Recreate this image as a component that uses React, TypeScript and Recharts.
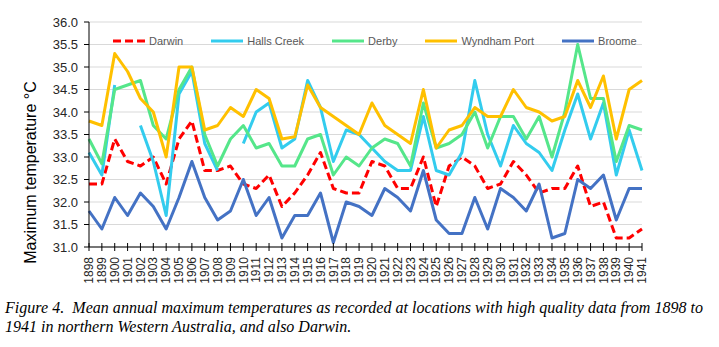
import React from 'react';
import { LineChart, Line, XAxis, YAxis, CartesianGrid, Legend } from 'recharts';

const years = [
  1898, 1899, 1900, 1901, 1902, 1903, 1904, 1905, 1906, 1907, 1908,
  1909, 1910, 1911, 1912, 1913, 1914, 1915, 1916, 1917, 1918, 1919,
  1920, 1921, 1922, 1923, 1924, 1925, 1926, 1927, 1928, 1929, 1930,
  1931, 1932, 1933, 1934, 1935, 1936, 1937, 1938, 1939, 1940, 1941,
];

const darwin = [
  32.4, 32.4, 33.4, 32.9, 32.8, 33.0, 32.4, 33.4, 33.8, 32.7, 32.7,
  32.8, 32.4, 32.3, 32.6, 31.9, 32.2, 32.6, 33.1, 32.3, 32.2, 32.2,
  32.9, 32.8, 32.3, 32.3, 33.0, 31.9, 32.8, 33.0, 32.8, 32.3, 32.4,
  32.9, 32.6, 32.2, 32.3, 32.3, 32.8, 31.9, 32.0, 31.2, 31.2, 31.4,
];

const hallsCreek = [
  33.1, 32.6, 34.6, null, 33.7, 32.9, 31.7, 34.4, 34.9, 33.3, 32.7,
  null, 33.3, 34.0, 34.2, 33.2, 33.4, 34.7, 34.1, 32.9, 33.6, 33.5,
  33.2, 32.9, 32.7, 32.7, 33.9, 32.7, 32.6, 33.1, 34.7, 33.5, 32.8,
  33.7, 33.3, 33.1, 32.7, 33.6, 34.4, 33.4, 34.2, 32.6, 33.6, 32.7,
];

const derby = [
  33.4, 32.85, 34.5, 34.6, 34.7, 33.7, 33.4, 34.5, 35.0, 33.5, 32.8,
  33.4, 33.7, 33.2, 33.3, 32.8, 32.8, 33.4, 33.5, 32.6, 33.0, 32.8,
  33.2, 33.4, 33.3, 32.8, 34.2, 33.2, 33.3, 33.5, 34.0, 33.2, 33.9,
  33.9, 33.4, 33.9, 33.0, 34.0, 35.5, 34.3, 34.3, 32.9, 33.7, 33.6,
];

const wyndhamPort = [
  33.8, 33.7, 35.3, 34.9, 34.3, 34.0, 33.0, 35.0, 35.0, 33.6, 33.7,
  34.1, 33.9, 34.5, 34.3, 33.4, 33.45, 34.6, 34.1, 33.9, 33.7, 33.5,
  34.2, 33.7, 33.5, 33.3, 34.5, 33.2, 33.6, 33.7, 34.1, 33.9, 33.9,
  34.5, 34.1, 34.0, 33.8, 33.9, 34.7, 34.1, 34.8, 33.4, 34.5, 34.7,
];

const broome = [
  31.8, 31.4, 32.1, 31.7, 32.2, 31.9, 31.4, 32.1, 32.9, 32.1, 31.6,
  31.8, 32.5, 31.7, 32.1, 31.2, 31.7, 31.7, 32.2, 31.1, 32.0, 31.9,
  31.7, 32.3, 32.1, 31.8, 32.7, 31.6, 31.3, 31.3, 32.1, 31.4, 32.3,
  32.1, 31.8, 32.4, 31.2, 31.3, 32.5, 32.3, 32.6, 31.6, 32.3, 32.3,
];

const yTicks = [31.0, 31.5, 32.0, 32.5, 33.0, 33.5, 34.0, 34.5, 35.0, 35.5, 36.0];

const seriesNames = ['Darwin', 'Halls Creek', 'Derby', 'Wyndham Port', 'Broome'];
const seriesColors = ['#FF0000', '#33CCEE', '#55E68A', '#FFC000', '#4472C4'];
const seriesDash = ['8 4', undefined, undefined, undefined, undefined];

const yTitle = 'Maximum temperature °C';
const captionLine1 =
  'Figure 4.  Mean annual maximum temperatures as recorded at locations with high quality data from 1898 to';
const captionLine2 = '1941 in northern Western Australia, and also Darwin.';

const seriesValues = [darwin, hallsCreek, derby, wyndhamPort, broome];

const data = years.map((year, i) => {
  const row: Record<string, number | null> = { year };
  seriesNames.forEach((name, s) => {
    row[name] = seriesValues[s][i];
  });
  return row;
});

const TICK_SIZE = 4;
const TICK_MARGIN = 6;
const SANS = '"Liberation Sans", Arial, sans-serif';
const SERIF = '"Liberation Serif", "Times New Roman", serif';

const XTick = (props: any) => {
  const { x, y, payload } = props;
  const axisY = y - TICK_SIZE - TICK_MARGIN;
  return (
    <g>
      <line x1={x} x2={x} y1={axisY - 4} y2={axisY + 4} stroke="#000" strokeWidth={1} />
      <text
        x={x}
        y={y}
        transform={`rotate(-90, ${x}, ${y})`}
        textAnchor="end"
        dy="0.35em"
        fontSize={12}
        fontFamily={SANS}
        fill="#262626"
      >
        {payload.value}
      </text>
    </g>
  );
};

const YTitle = (props: any) => {
  const vb = props.viewBox || { x: 0, y: 0, width: 0, height: 0 };
  const cx = vb.x + 36;
  const cy = vb.y + vb.height / 2 + 38;
  return (
    <text
      x={cx}
      y={cy}
      transform={`rotate(-90, ${cx}, ${cy})`}
      textAnchor="middle"
      fontSize={16}
      fontFamily={SANS}
      fill="#000"
    >
      {yTitle}
    </text>
  );
};

const LegendContent = () => (
  <div
    style={{
      display: 'flex',
      alignItems: 'center',
      paddingLeft: 112,
      height: 16,
      fontFamily: SANS,
      fontSize: 11,
      color: '#595959',
      whiteSpace: 'nowrap',
    }}
  >
    {seriesNames.map((name, i) => (
      <div key={name} style={{ display: 'flex', alignItems: 'center', marginRight: 27 }}>
        <svg width={34} height={8} style={{ display: 'block' }}>
          <line
            x1={1}
            x2={33}
            y1={4}
            y2={4}
            stroke={seriesColors[i]}
            strokeWidth={3}
            strokeDasharray={seriesDash[i]}
          />
        </svg>
        <span style={{ marginLeft: 3 }}>{name}</span>
      </div>
    ))}
  </div>
);

export default function App() {
  return (
    <div
      style={{
        position: 'absolute',
        left: 0,
        top: 0,
        width: 719,
        height: 347,
        background: '#fff',
        overflow: 'hidden',
      }}
    >
      <LineChart
        width={719}
        height={290}
        data={data}
        margin={{ top: 22, right: 77, left: 0, bottom: 3 }}
      >
        <CartesianGrid vertical={false} stroke="#D9D9D9" strokeWidth={1} />
        <XAxis
          dataKey="year"
          interval={0}
          height={40}
          tickLine={false}
          tickSize={TICK_SIZE}
          tickMargin={TICK_MARGIN}
          axisLine={{ stroke: '#000', strokeWidth: 1 }}
          tick={<XTick />}
        />
        <YAxis
          width={89}
          domain={[31, 36]}
          ticks={yTicks}
          interval={0}
          tickFormatter={(v: number) => v.toFixed(1)}
          tickSize={5}
          tickMargin={6}
          tickLine={{ stroke: '#000' }}
          axisLine={{ stroke: '#000', strokeWidth: 1 }}
          tick={{ fontSize: 13, fontFamily: SANS, fill: '#262626' }}
          label={<YTitle />}
        />
        <Legend
          layout="horizontal"
          align="center"
          verticalAlign="middle"
          wrapperStyle={{ top: 33, left: 0, width: 719, height: 16 }}
          content={<LegendContent />}
        />
        {seriesNames.map((name, i) => (
          <Line
            key={name}
            type="linear"
            dataKey={name}
            stroke={seriesColors[i]}
            strokeWidth={3}
            strokeDasharray={seriesDash[i]}
            strokeLinejoin="round"
            dot={false}
            activeDot={false}
            connectNulls={false}
            isAnimationActive={false}
          />
        ))}
      </LineChart>
      <svg
        width={719}
        height={57}
        style={{ position: 'absolute', left: 0, top: 290, display: 'block' }}
      >
        <text
          x={5}
          y={23}
          fontFamily={SERIF}
          fontStyle="italic"
          fontSize={16}
          fill="#000"
          textLength={698}
          lengthAdjust="spacing"
          style={{ whiteSpace: 'pre' }}
        >
          {captionLine1}
        </text>
        <text
          x={5}
          y={42}
          fontFamily={SERIF}
          fontStyle="italic"
          fontSize={16}
          fill="#000"
        >
          {captionLine2}
        </text>
      </svg>
    </div>
  );
}
